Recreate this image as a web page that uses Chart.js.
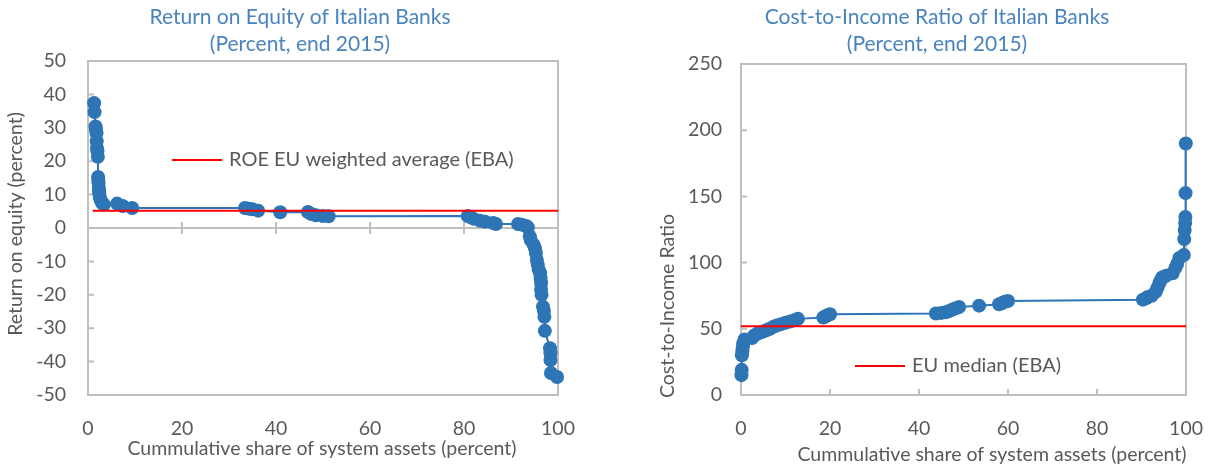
<!DOCTYPE html>
<html>
<head>
<title>Italian Banks: ROE and Cost-to-Income</title>
<script src="https://cdn.jsdelivr.net/npm/chart.js"></script>
<style>
  body { margin: 0; background: #fff; }
  #wrap { position: relative; width: 1225px; height: 472px; }
  canvas { position: absolute; top: 0; }
</style>
</head>
<body>
<div id="wrap">
  <canvas id="roeChart" width="610" height="472" style="left:0px"></canvas>
  <canvas id="cirChart" width="615" height="472" style="left:610px"></canvas>
</div>
<script>
// Return on equity, sorted, against cumulative share of system assets
var roeShare = [1.3, 1.4, 1.6, 1.7, 1.8, 1.85, 1.9, 2.0, 2.1, 2.15, 2.2, 2.25, 2.3, 2.35, 2.4, 2.5, 2.7, 3.0, 3.4,
  6.2, 7.4, 9.4, 33.4, 34.2, 35.0, 36.2, 40.9, 46.8, 47.5, 48.5, 50.0, 51.2,
  80.8, 81.3, 82.0, 83.4, 84.5, 86.2, 86.8, 91.5, 92.3, 93.2, 93.6,
  94.0, 94.2, 94.8, 95.1, 95.3, 95.5, 95.7, 95.9, 96.2, 96.3, 96.4, 96.4, 96.5,
  96.8, 97.0, 97.1, 97.2, 98.3, 98.4, 98.4, 98.5, 99.8];
var roeValue = [37.4, 34.7, 30.4, 29.5, 28.4, 26.0, 24.0, 23.0, 21.3, 15.3, 14.2, 13.5, 12.0, 11.0, 10.5, 9.3, 8.4, 7.5, 7.0,
  7.3, 6.6, 6.0, 6.0, 5.8, 5.6, 5.2, 4.7, 4.8, 4.2, 3.8, 3.6, 3.5,
  3.6, 3.3, 2.8, 2.2, 1.9, 1.5, 1.2, 1.2, 1.0, 0.6, 0.2,
  -2.5, -3.6, -5.0, -6.0, -7.5, -9.6, -11.0, -12.5, -13.5, -15.0, -16.5, -18.5, -20.0,
  -23.6, -24.8, -26.6, -30.8, -36.0, -37.5, -39.5, -43.4, -44.6];
var roeEUShare = [1, 100];
var roeEUValue = [5.2, 5.2];

// Cost-to-income ratio, sorted, against cumulative share of system assets
var cirShare = [0.1, 0.15, 0.2, 0.3, 0.4, 0.5, 0.8, 2.5, 3.0, 3.5, 4.2, 5.0, 5.8, 6.5, 7.3, 8.0, 9.0, 10.0, 11.0, 12.0, 12.8,
  18.5, 19.0, 19.6, 20.0, 43.8, 45.0, 46.0, 46.8, 47.5, 48.3, 49.0, 53.5, 58.0, 58.7, 59.3, 60.0,
  90.3, 91.0, 91.4, 92.3, 93.2, 93.6, 94.0, 94.4, 94.7, 95.5, 97.0, 97.6, 98.0, 98.5,
  99.5, 99.6, 99.7, 99.8, 99.85, 99.9, 99.95];
var cirValue = [15, 19, 30, 33, 36, 39, 42, 43, 45, 46, 47, 48, 49, 50, 51.5, 52.5, 53.5, 54.5, 55.5, 56.5, 57.5,
  58.5, 59.5, 60.5, 61, 61.5, 62, 62.5, 63.5, 64.5, 65.5, 66.5, 67.5, 68.5, 69.5, 70.5, 71,
  72, 73, 74, 75, 78, 81, 84.6, 87, 89, 90, 92, 96, 99, 103.5,
  105.7, 117.8, 124.6, 130, 134.5, 152.5, 190];
var cirEUShare = [0, 100];
var cirEUValue = [52, 52];

var blue = '#2E75B6';
var grey = '#595959';
var frameGrey = '#BFBFBF';
var titleBlue = '#4A84BF';
Chart.defaults.font.family = 'Lato';

function pts(xs, ys) {
  return xs.map(function (x, i) { return { x: x, y: ys[i] }; });
}

// frame, inner tick marks, titles and legend, laid out like the original
function decor(o) {
  return {
    id: 'decor',
    beforeDatasetsDraw: function (chart) {
      var ctx = chart.ctx, a = chart.chartArea, xs = chart.scales.x, ys = chart.scales.y;
      ctx.save();
      ctx.strokeStyle = frameGrey;
      ctx.lineWidth = 2;
      ctx.strokeRect(a.left, a.top, a.right - a.left, a.bottom - a.top);
      ctx.beginPath();
      ys.ticks.forEach(function (t) {
        var y = ys.getPixelForValue(t.value);
        ctx.moveTo(a.left, y); ctx.lineTo(a.left + 6, y);
      });
      var y0 = o.zeroAxis ? ys.getPixelForValue(0) : a.bottom;
      if (o.zeroAxis) { ctx.moveTo(a.left, y0); ctx.lineTo(a.right, y0); }
      xs.ticks.forEach(function (t) {
        var x = xs.getPixelForValue(t.value);
        ctx.moveTo(x, y0 - 6); ctx.lineTo(x, o.zeroAxis ? y0 + 6 : y0);
      });
      ctx.stroke();
      ctx.restore();
    },
    afterDraw: function (chart) {
      var ctx = chart.ctx;
      ctx.save();
      ctx.textAlign = 'center';
      ctx.textBaseline = 'middle';
      ctx.fillStyle = titleBlue;
      ctx.font = '21px Lato';
      ctx.fillText(o.title[0], o.titleX, 17);
      ctx.fillText(o.title[1], o.titleX, 44);
      ctx.fillStyle = grey;
      ctx.font = '19.5px Lato';
      ctx.fillText(o.xTitle, o.xTitlePos[0], o.xTitlePos[1]);
      ctx.save();
      ctx.translate(o.yTitlePos[0], o.yTitlePos[1]);
      ctx.rotate(-Math.PI / 2);
      ctx.fillText(o.yTitle, 0, 0);
      ctx.restore();
      // legend entry for the red reference line
      var ds = chart.data.datasets[0];
      ctx.strokeStyle = ds.borderColor;
      ctx.lineWidth = 2;
      ctx.beginPath();
      ctx.moveTo(o.legend[0], o.legend[1]);
      ctx.lineTo(o.legend[0] + 50, o.legend[1]);
      ctx.stroke();
      ctx.textAlign = 'left';
      ctx.font = '20px Lato';
      ctx.fillText(ds.label, o.legend[0] + 57, o.legend[1]);
      ctx.restore();
    }
  };
}

function makeChart(id, cfg) {
  return new Chart(document.getElementById(id), {
    type: 'scatter',
    data: {
      datasets: [{
        label: cfg.refLabel,
        data: pts(cfg.refX, cfg.refY),
        showLine: true,
        borderColor: '#FF0000',
        borderWidth: 2,
        pointRadius: 0,
        clip: false
      }, {
        label: cfg.label,
        data: pts(cfg.xs, cfg.ys),
        showLine: true,
        borderColor: blue,
        borderWidth: 2,
        backgroundColor: blue,
        pointRadius: 7,
        pointBorderWidth: 0,
        clip: false
      }]
    },
    options: {
      responsive: false,
      animation: false,
      devicePixelRatio: 1,
      layout: { padding: cfg.padding },
      plugins: { legend: { display: false }, tooltip: { enabled: false }, title: { display: false } },
      scales: {
        x: {
          type: 'linear', min: 0, max: 100,
          ticks: { stepSize: 20, color: grey, font: { size: 19.5 }, padding: 22 },
          grid: { display: false, drawTicks: false },
          border: { display: false },
          afterFit: function (s) { s.height = 77; }
        },
        y: {
          min: cfg.yMin, max: cfg.yMax,
          ticks: { stepSize: cfg.yStep, color: grey, font: { size: 19.5 }, padding: cfg.yPad },
          grid: { display: false, drawTicks: false },
          border: { display: false },
          afterFit: function (s) { s.width = cfg.yWidth; }
        }
      }
    },
    plugins: [decor(cfg.decor)]
  });
}

makeChart('roeChart', {
  refLabel: 'ROE EU weighted average (EBA)', refX: roeEUShare, refY: roeEUValue,
  label: 'Return on equity', xs: roeShare, ys: roeValue,
  yMin: -50, yMax: 50, yStep: 10, yPad: 22, yWidth: 88,
  padding: { left: 0, top: 61, right: 52, bottom: 0 },
  decor: {
    zeroAxis: true,
    title: ['Return on Equity of Italian Banks', '(Percent, end 2015)'], titleX: 300,
    xTitle: 'Cummulative share of system assets (percent)', xTitlePos: [322, 449],
    yTitle: 'Return on equity (percent)', yTitlePos: [16, 224],
    legend: [172, 160]
  }
});

makeChart('cirChart', {
  refLabel: 'EU median (EBA)', refX: cirEUShare, refY: cirEUValue,
  label: 'Cost-to-income ratio', xs: cirShare, ys: cirValue,
  yMin: 0, yMax: 250, yStep: 50, yPad: 19, yWidth: 131,
  padding: { left: 0, top: 64, right: 31, bottom: 0 },
  decor: {
    zeroAxis: false,
    title: ['Cost-to-Income Ratio of Italian Banks', '(Percent, end 2015)'], titleX: 327,
    xTitle: 'Cummulative share of system assets (percent)', xTitlePos: [382, 455],
    yTitle: 'Cost-to-Income Ratio', yTitlePos: [58, 306],
    legend: [245, 366]
  }
});
</script>
</body>
</html>
